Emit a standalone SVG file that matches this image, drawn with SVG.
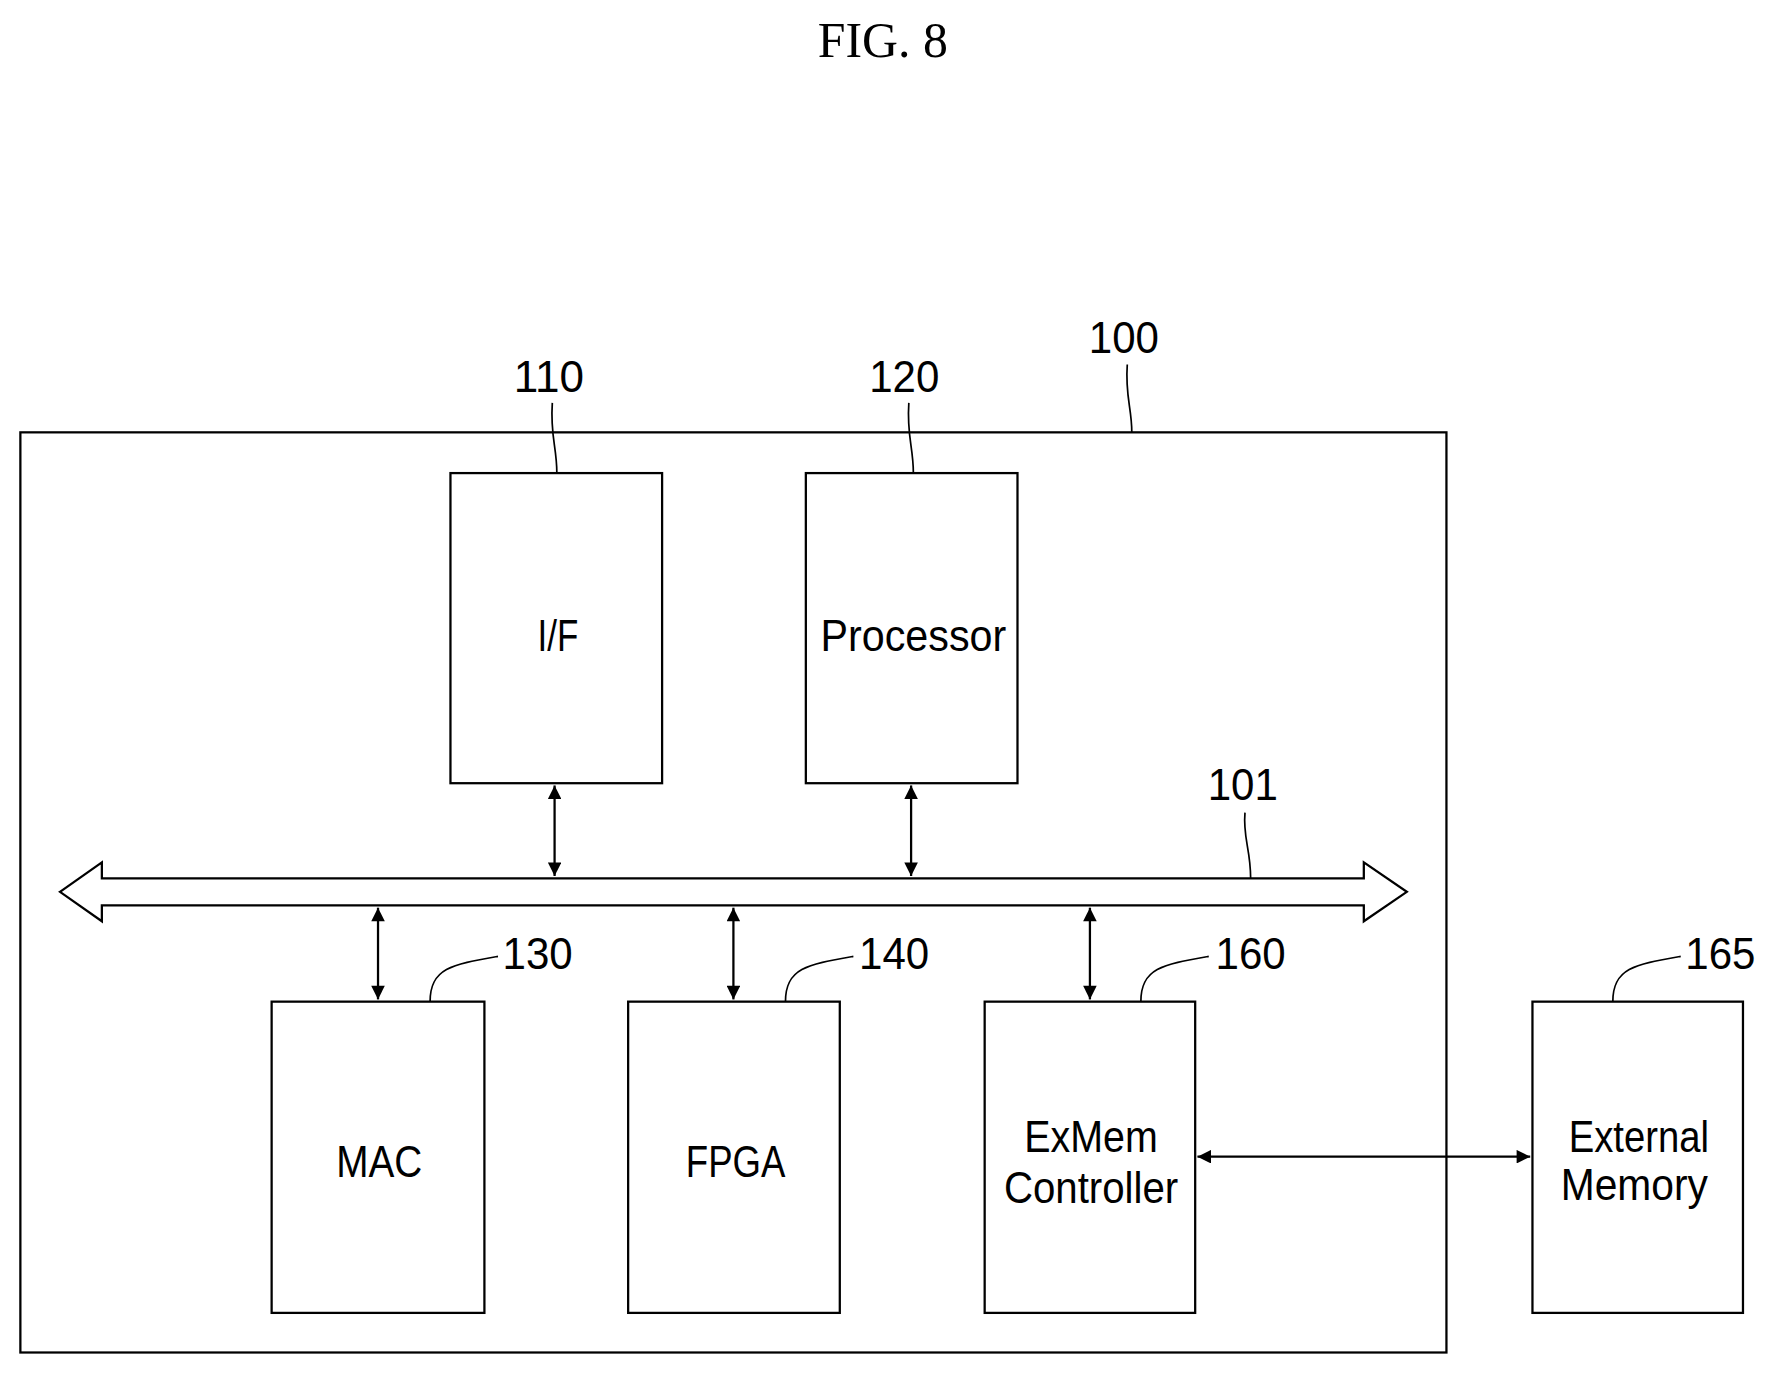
<svg xmlns="http://www.w3.org/2000/svg" width="1774" height="1373" viewBox="0 0 1774 1373">
<style>
.b{fill:#fff;stroke:#000;stroke-width:2}
.t{font-family:"Liberation Sans",Arial,sans-serif;font-size:40px;text-anchor:middle;fill:#000}
.l{fill:none;stroke:#000;stroke-width:1.5}
.c{fill:none;stroke:#000;stroke-width:2}
</style>
<defs>
<marker id="h" viewBox="0 0 10 10" refX="10" refY="5" markerWidth="16" markerHeight="12" orient="auto-start-reverse" markerUnits="userSpaceOnUse"><path d="M0,0 L10,5 L0,10 z" fill="#000"/></marker>
</defs>
<rect width="1774" height="1373" fill="#fff"/>
<g transform="scale(1.1318)">
<text x="780" y="50" text-anchor="middle" font-family="Liberation Serif,serif" font-size="44">FIG. 8</text>
<g id="n100"><rect class="b" x="18" y="382" width="1260" height="813"/><text class="t" x="993" y="312" textLength="62" lengthAdjust="spacingAndGlyphs">100</text><path class="l" d="M1000,382 C1000,360 994,350 996,322"/></g>
<g id="n110"><rect class="b" x="398" y="418" width="187" height="274"/><text class="t" x="493" y="575" textLength="36" lengthAdjust="spacingAndGlyphs">I/F</text><text class="t" x="485" y="346" textLength="62" lengthAdjust="spacingAndGlyphs">110</text><path class="l" d="M492,418 C492,395 486,385 488,356"/></g>
<g id="n120"><rect class="b" x="712" y="418" width="187" height="274"/><text class="t" x="807" y="575" textLength="164" lengthAdjust="spacingAndGlyphs">Processor</text><text class="t" x="799" y="346" textLength="62" lengthAdjust="spacingAndGlyphs">120</text><path class="l" d="M807,418 C807,395 801,385 803,356"/></g>
<g id="n130"><rect class="b" x="240" y="885" width="188" height="275"/><text class="t" x="335" y="1040" textLength="76" lengthAdjust="spacingAndGlyphs">MAC</text><text class="t" x="475" y="856" textLength="62" lengthAdjust="spacingAndGlyphs">130</text><path class="l" d="M380,885 C380,855 400,852 440,845"/></g>
<g id="n140"><rect class="b" x="555" y="885" width="187" height="275"/><text class="t" x="650" y="1040" textLength="88" lengthAdjust="spacingAndGlyphs">FPGA</text><text class="t" x="790" y="856" textLength="62" lengthAdjust="spacingAndGlyphs">140</text><path class="l" d="M694,885 C694,855 714,852 754,845"/></g>
<g id="n160"><rect class="b" x="870" y="885" width="186" height="275"/><text class="t" x="964" y="1018" textLength="118" lengthAdjust="spacingAndGlyphs">ExMem</text><text class="t" x="964" y="1063" textLength="154" lengthAdjust="spacingAndGlyphs">Controller</text><text class="t" x="1105" y="856" textLength="62" lengthAdjust="spacingAndGlyphs">160</text><path class="l" d="M1008,885 C1008,855 1028,852 1068,845"/></g>
<g id="n165"><rect class="b" x="1354" y="885" width="186" height="275"/><text class="t" x="1448" y="1018" textLength="124" lengthAdjust="spacingAndGlyphs">External</text><text class="t" x="1444" y="1060" textLength="130" lengthAdjust="spacingAndGlyphs">Memory</text><text class="t" x="1520" y="856" textLength="62" lengthAdjust="spacingAndGlyphs">165</text><path class="l" d="M1425,885 C1425,855 1445,852 1485,845"/></g>
<g id="n101"><path class="b" d="M53,788 L90,762 L90,776 L1205,776 L1205,762 L1243,788 L1205,814 L1205,800 L90,800 L90,814 Z"/><text class="t" x="1098" y="707" textLength="62" lengthAdjust="spacingAndGlyphs">101</text><path class="l" d="M1105,776 C1105,750 1098,740 1100,718"/></g>
<g id="connectors">
<line class="c" x1="490" y1="694" x2="490" y2="774" marker-start="url(#h)" marker-end="url(#h)"/>
<line class="c" x1="805" y1="694" x2="805" y2="774" marker-start="url(#h)" marker-end="url(#h)"/>
<line class="c" x1="334" y1="802" x2="334" y2="883" marker-start="url(#h)" marker-end="url(#h)"/>
<line class="c" x1="648" y1="802" x2="648" y2="883" marker-start="url(#h)" marker-end="url(#h)"/>
<line class="c" x1="963" y1="802" x2="963" y2="883" marker-start="url(#h)" marker-end="url(#h)"/>
<line class="c" x1="1058" y1="1022" x2="1352" y2="1022" marker-start="url(#h)" marker-end="url(#h)"/>
</g>
</g>
</svg>
